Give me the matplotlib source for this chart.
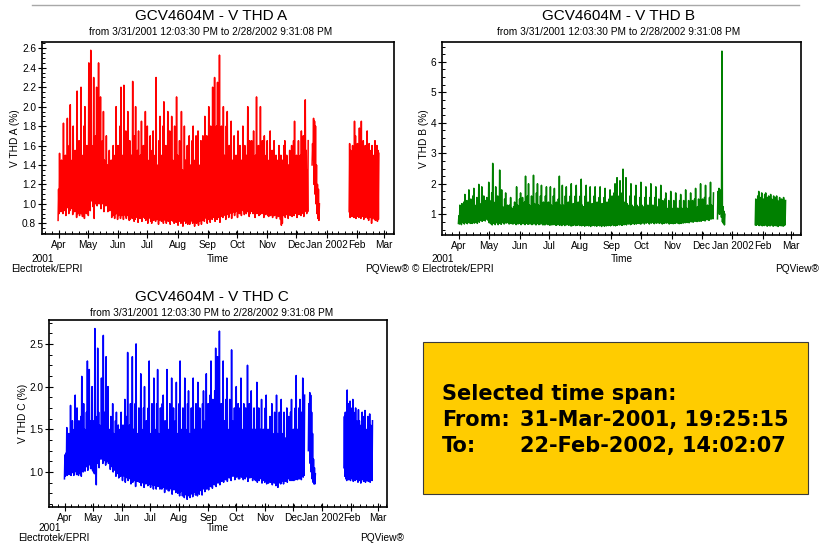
import matplotlib
matplotlib.use("Agg")
import matplotlib.pyplot as plt
import matplotlib.dates as mdates
from matplotlib.patches import Rectangle
from matplotlib.lines import Line2D
from matplotlib.ticker import MultipleLocator, FuncFormatter
from datetime import datetime

plt.rcParams['font.family'] = ['Liberation Sans', 'DejaVu Sans']

W, H = 824, 545

# three recording segments (start of each block of daily readings)
seg_starts = [datetime(2001, 3, 31, 12, 3, 30), datetime(2001, 12, 17), datetime(2002, 1, 24)]

# ---- V THD A : daily high / low (%) ----
a_hi_1 = [1.15, 1.52, 1.3, 1.45, 1.25, 1.83, 1.35, 1.5, 1.3, 1.88,
          1.4, 1.6, 2.02, 1.35, 1.45, 1.8, 1.3, 1.55, 1.4, 2.16,
          1.45, 1.65, 1.35, 2.2, 1.5, 1.4, 1.8, 2.0, 1.45, 1.6,
          1.5, 2.45, 1.55, 2.58, 1.6, 1.5, 2.3, 1.45, 1.7, 2.2,
          1.55, 2.45, 1.6, 2.1, 1.5, 1.65, 1.95, 1.45, 1.35, 1.7,
          1.4, 1.3, 1.55, 1.25, 1.45, 1.3, 1.6, 1.35, 1.5, 2.0,
          1.35, 1.6, 1.3, 1.8, 2.2, 1.4, 1.5, 2.22, 1.35, 1.75,
          1.4, 1.95, 1.3, 1.65, 1.4, 1.5, 2.26, 1.35, 1.7, 2.0,
          1.3, 1.55, 1.75, 1.35, 1.5, 1.85, 1.3, 1.6, 1.4, 1.95,
          1.35, 1.8, 1.3, 1.45, 1.7, 1.3, 1.55, 1.75, 1.35, 1.5,
          2.3, 1.4, 1.3, 1.65, 1.9, 1.35, 1.5, 1.8, 2.05, 1.3,
          1.6, 1.35, 1.95, 1.4, 1.75, 1.3, 1.9, 1.45, 1.35, 1.8,
          1.4, 2.1, 1.5, 1.3, 1.65, 1.45, 1.95, 1.35, 1.3, 1.8,
          1.45, 1.3, 1.6, 1.35, 1.7, 1.4, 1.3, 1.65, 1.8, 1.3,
          1.45, 1.7, 1.35, 1.75, 1.4, 1.3, 1.65, 1.35, 1.7, 1.45,
          1.9, 1.4, 1.7, 1.35, 2.0, 1.5, 1.8, 1.45, 2.2, 1.6,
          2.3, 1.5, 1.8, 2.25, 1.55, 2.53, 1.6, 1.8, 1.4, 2.0,
          1.5, 1.35, 1.8, 1.95, 1.4, 1.6, 1.3, 1.85, 1.45, 1.35,
          1.7, 1.3, 1.5, 1.35, 1.75, 1.4, 1.6, 1.3, 1.45, 1.8,
          1.35, 1.6, 1.3, 1.5, 2.0, 1.4, 1.65, 1.3, 1.65, 1.4,
          1.75, 1.35, 1.5, 2.1, 1.4, 1.6, 1.35, 2.0, 1.4, 1.65,
          1.35, 1.7, 1.3, 1.5, 1.65, 1.35, 1.45, 1.75, 1.3, 1.55,
          1.4, 1.65, 1.3, 1.5, 1.35, 1.45, 1.6, 1.3, 1.5, 1.35,
          1.45, 1.6, 1.65, 1.3, 1.5, 1.35, 1.4, 1.55, 1.3, 1.6,
          1.4, 1.65, 1.85, 1.35, 1.5, 1.4, 1.65, 1.35, 1.5, 1.75,
          1.4, 1.7, 1.45, 2.07, 1.55, 1.35, 1.65]
a_lo_1 = [0.83, 0.9, 0.95, 0.92, 0.97, 0.9, 0.93, 0.98, 0.88, 1.0,
          0.96, 0.9, 0.93, 0.95, 1.0, 0.89, 0.94, 0.92, 0.95, 0.86,
          0.9, 0.93, 0.88, 0.95, 0.9, 0.87, 0.92, 0.85, 0.95, 0.9,
          1.0, 0.88, 1.02, 0.93, 1.03, 1.05, 0.97, 0.85, 1.0, 1.05,
          0.98, 1.06, 1.0, 1.08, 0.95, 1.03, 1.0, 0.92, 1.05, 0.98,
          1.0, 0.92, 0.98, 0.93, 0.95, 0.86, 0.92, 0.88, 0.85, 0.9,
          0.9, 0.84, 0.88, 0.92, 0.85, 0.88, 0.9, 0.84, 0.93, 0.88,
          0.85, 0.88, 0.9, 0.83, 0.84, 0.88, 0.85, 0.9, 0.82, 0.84,
          0.88, 0.86, 0.81, 0.87, 0.85, 0.88, 0.82, 0.86, 0.9, 0.85,
          0.83, 0.86, 0.8, 0.85, 0.88, 0.82, 0.8, 0.85, 0.83, 0.86,
          0.82, 0.85, 0.84, 0.79, 0.83, 0.86, 0.82, 0.84, 0.8, 0.85,
          0.83, 0.8, 0.84, 0.82, 0.85, 0.79, 0.83, 0.86, 0.82, 0.8,
          0.84, 0.81, 0.83, 0.78, 0.82, 0.85, 0.8, 0.83, 0.77, 0.82,
          0.84, 0.8, 0.83, 0.79, 0.85, 0.79, 0.82, 0.84, 0.8, 0.83,
          0.77, 0.82, 0.8, 0.84, 0.78, 0.82, 0.85, 0.79, 0.83, 0.86,
          0.82, 0.87, 0.85, 0.8, 0.84, 0.86, 0.81, 0.87, 0.84, 0.86,
          0.88, 0.82, 0.87, 0.84, 0.86, 0.88, 0.81, 0.87, 0.9, 0.86,
          0.88, 0.9, 0.84, 0.91, 0.89, 0.86, 0.9, 0.92, 0.85, 0.91,
          0.93, 0.88, 0.92, 0.95, 0.86, 0.93, 0.9, 0.94, 0.88, 0.95,
          0.93, 0.89, 0.94, 0.9, 0.92, 0.95, 0.87, 0.9, 0.94, 0.92,
          0.9, 0.93, 0.86, 0.92, 0.9, 0.94, 0.88, 0.89, 0.93, 0.9,
          0.92, 0.86, 0.91, 0.89, 0.93, 0.88, 0.87, 0.91, 0.88, 0.9,
          0.86, 0.9, 0.88, 0.92, 0.85, 0.89, 0.87, 0.91, 0.84, 0.78,
          0.8, 0.88, 0.9, 0.86, 0.89, 0.92, 0.85, 0.9, 0.88, 0.91,
          0.87, 0.92, 0.88, 0.9, 0.93, 0.86, 0.91, 0.89, 0.92, 0.88,
          0.9, 0.93, 0.87, 0.92, 0.94, 0.9, 0.92]
a_hi_2 = [1.62, 1.88, 1.85, 1.8, 1.4, 1.2, 1.15, 1.0]
a_lo_2 = [1.4, 1.45, 1.2, 1.1, 1.0, 0.9, 0.85, 0.83]
a_hi_3 = [1.62, 1.55, 1.45, 1.6, 1.5, 1.85, 1.7, 1.45, 1.62, 1.55,
          1.78, 1.6, 1.85, 1.5, 1.65, 1.55, 1.6, 1.4, 1.75, 1.5,
          1.62, 1.45, 1.55, 1.6, 1.4, 1.5, 1.65, 1.45, 1.6, 1.55, 1.52]
a_lo_3 = [0.92, 0.86, 0.88, 0.87, 0.9, 0.86, 0.88, 0.85, 0.9, 0.87,
          0.86, 0.88, 0.85, 0.89, 0.87, 0.84, 0.88, 0.86, 0.9, 0.85,
          0.83, 0.87, 0.86, 0.8, 0.85, 0.88, 0.84, 0.83, 0.86, 0.82, 0.84]

# ---- V THD B ----
b_hi_1 = [0.95, 1.3, 1.1, 1.35, 1.15, 1.4, 1.65, 1.2, 1.45, 1.25,
          1.8, 1.3, 1.5, 1.2, 1.6, 1.85, 1.3, 1.2, 1.55, 1.3,
          1.98, 1.35, 1.25, 1.9, 1.3, 1.6, 1.2, 1.45, 1.55, 1.3,
          2.05, 1.45, 1.3, 1.7, 2.67, 1.4, 1.3, 1.9, 1.25, 1.6,
          1.35, 2.45, 1.3, 1.8, 1.25, 1.2, 1.5, 1.7, 1.2, 1.3,
          1.15, 1.3, 1.55, 1.2, 1.1, 1.25, 1.4, 1.2, 1.9, 1.3,
          1.25, 1.5, 1.7, 1.3, 1.55, 1.2, 1.4, 2.25, 1.3, 1.6,
          2.0, 1.3, 1.2, 1.6, 1.25, 2.28, 1.35, 1.2, 1.7, 2.0,
          1.3, 1.2, 1.6, 1.95, 1.25, 1.4, 1.2, 1.6, 1.9, 1.25,
          1.4, 1.2, 1.9, 1.3, 1.25, 1.6, 1.85, 1.2, 1.4, 1.25,
          1.5, 2.25, 1.3, 1.2, 1.95, 1.3, 1.2, 1.6, 1.9, 1.25,
          1.4, 1.2, 1.6, 2.0, 1.25, 1.35, 1.2, 1.6, 1.95, 1.25,
          1.4, 1.2, 1.6, 2.15, 1.3, 1.25, 1.2, 1.6, 1.95, 1.25,
          1.4, 1.2, 1.9, 1.25, 1.35, 1.2, 1.6, 1.9, 1.25, 1.4,
          1.2, 1.55, 1.9, 1.25, 1.35, 1.2, 1.55, 1.85, 1.25, 1.4,
          1.2, 1.5, 1.8, 1.25, 1.6, 1.3, 1.7, 2.0, 1.4, 2.2,
          1.3, 1.6, 2.1, 1.35, 1.7, 2.48, 1.4, 1.3, 2.2, 1.35,
          1.3, 1.25, 1.6, 2.0, 1.3, 1.25, 1.2, 1.6, 1.95, 1.3,
          1.25, 1.2, 1.55, 2.05, 1.3, 1.25, 1.2, 1.55, 1.9, 1.25,
          1.3, 1.2, 1.55, 2.0, 1.25, 1.3, 1.2, 1.55, 1.9, 1.25,
          1.2, 1.5, 1.25, 1.95, 1.2, 1.45, 1.15, 1.5, 1.7, 1.2,
          1.15, 1.45, 1.2, 1.75, 1.2, 1.15, 1.45, 1.2, 1.7, 1.15,
          1.2, 1.15, 1.45, 1.65, 1.2, 1.15, 1.45, 1.2, 1.8, 1.2,
          1.15, 1.45, 1.2, 1.7, 1.15, 1.45, 1.2, 1.5, 1.85, 1.2,
          1.25, 1.5, 1.2, 2.0, 1.25, 1.5, 1.2, 1.55, 1.95, 1.25,
          1.3, 1.25, 1.55, 2.05, 1.3, 1.25, 1.7]
b_lo_1 = [0.7, 0.68, 0.72, 0.66, 0.74, 0.71, 0.68, 0.75, 0.72, 0.69,
          0.76, 0.73, 0.7, 0.72, 0.7, 0.74, 0.71, 0.73, 0.75, 0.7,
          0.8, 0.74, 0.82, 0.79, 0.77, 0.8, 0.85, 0.78, 0.86, 0.83,
          0.8, 0.72, 0.72, 0.68, 0.65, 0.7, 0.72, 0.66, 0.74, 0.71,
          0.66, 0.7, 0.73, 0.67, 0.72, 0.75, 0.68, 0.73, 0.71, 0.74,
          0.72, 0.68, 0.7, 0.74, 0.69, 0.68, 0.73, 0.7, 0.66, 0.71,
          0.68, 0.72, 0.7, 0.66, 0.71, 0.69, 0.73, 0.66, 0.7, 0.72,
          0.67, 0.7, 0.68, 0.72, 0.66, 0.7, 0.68, 0.71, 0.65, 0.69,
          0.7, 0.66, 0.69, 0.68, 0.71, 0.65, 0.7, 0.65, 0.69, 0.68,
          0.66, 0.69, 0.64, 0.7, 0.65, 0.68, 0.66, 0.69, 0.64, 0.65,
          0.68, 0.66, 0.64, 0.67, 0.63, 0.68, 0.66, 0.63, 0.67, 0.65,
          0.68, 0.64, 0.66, 0.62, 0.62, 0.66, 0.64, 0.67, 0.63, 0.66,
          0.64, 0.67, 0.63, 0.65, 0.62, 0.66, 0.64, 0.61, 0.65, 0.63,
          0.66, 0.62, 0.64, 0.6, 0.65, 0.63, 0.66, 0.62, 0.64, 0.61,
          0.63, 0.66, 0.62, 0.64, 0.6, 0.65, 0.63, 0.61, 0.64, 0.62,
          0.65, 0.63, 0.66, 0.62, 0.64, 0.67, 0.63, 0.65, 0.62, 0.66,
          0.64, 0.67, 0.65, 0.68, 0.64, 0.64, 0.68, 0.66, 0.69, 0.65,
          0.7, 0.68, 0.71, 0.66, 0.67, 0.7, 0.72, 0.67, 0.71, 0.68,
          0.72, 0.7, 0.73, 0.68, 0.69, 0.72, 0.74, 0.68, 0.73, 0.71,
          0.74, 0.72, 0.68, 0.73, 0.71, 0.74, 0.72, 0.69, 0.73, 0.71,
          0.72, 0.74, 0.7, 0.73, 0.71, 0.68, 0.72, 0.7, 0.73, 0.71,
          0.74, 0.71, 0.68, 0.72, 0.7, 0.73, 0.69, 0.72, 0.7, 0.74,
          0.71, 0.73, 0.69, 0.72, 0.7, 0.73, 0.71, 0.74, 0.72, 0.75,
          0.73, 0.76, 0.72, 0.77, 0.75, 0.78, 0.74, 0.79, 0.77, 0.8,
          0.76, 0.8, 0.77, 0.81, 0.77, 0.82, 0.8, 0.83, 0.78, 0.84,
          0.82, 0.85, 0.8, 0.86, 0.84, 0.87, 0.85]
b_hi_2 = [1.75, 1.85, 1.6, 1.8, 6.35, 1.25, 1.1, 1.0]
b_lo_2 = [0.85, 1.2, 1.0, 1.05, 0.9, 0.75, 0.7, 0.65]
b_hi_3 = [1.5, 1.35, 1.6, 1.75, 1.45, 1.55, 1.7, 1.4, 1.5, 1.65,
          1.7, 1.45, 1.55, 1.6, 1.4, 1.65, 1.5, 1.45, 1.6, 1.4,
          1.55, 1.6, 1.45, 1.35, 1.55, 1.45, 1.5, 1.4, 1.55, 1.45, 1.45]
b_lo_3 = [0.66, 0.64, 0.67, 0.65, 0.63, 0.66, 0.64, 0.62, 0.65, 0.63,
          0.66, 0.64, 0.61, 0.65, 0.63, 0.62, 0.66, 0.64, 0.61, 0.63,
          0.65, 0.62, 0.64, 0.6, 0.63, 0.65, 0.62, 0.64, 0.61, 0.63, 0.65]

# ---- V THD C ----
c_hi_1 = [1.2, 1.22, 1.52, 1.3, 1.45, 1.35, 1.78, 1.4, 1.6, 1.35,
          1.5, 1.9, 1.4, 1.75, 1.45, 1.6, 1.4, 1.65, 2.12, 1.45,
          1.8, 1.5, 1.45, 1.7, 2.3, 1.55, 2.2, 1.6, 1.5, 2.0,
          1.6, 1.5, 2.68, 1.65, 1.55, 2.45, 1.7, 1.55, 1.5, 2.1,
          1.6, 2.6, 1.7, 1.5, 2.35, 1.55, 2.0, 1.5, 1.45, 1.65,
          1.4, 1.8, 1.45, 1.35, 1.6, 1.7, 1.4, 1.55, 1.35, 1.5,
          1.7, 1.4, 1.55, 1.45, 1.85, 1.4, 1.65, 2.4, 1.45, 1.55,
          1.8, 1.4, 2.35, 1.5, 1.4, 1.8, 2.5, 1.45, 1.4, 1.75,
          1.45, 2.15, 1.5, 1.4, 1.75, 2.0, 1.45, 1.6, 1.4, 1.75,
          2.3, 1.45, 1.4, 1.8, 1.45, 2.1, 1.5, 1.4, 1.8, 2.2,
          1.45, 1.4, 1.75, 1.45, 1.8, 1.9, 1.4, 1.6, 1.45, 2.2,
          1.5, 1.4, 1.8, 1.45, 2.1, 1.4, 1.75, 1.45, 1.6, 2.05,
          1.45, 1.4, 1.8, 2.3, 1.5, 1.4, 1.75, 1.45, 2.1, 1.5,
          1.4, 1.8, 1.95, 1.45, 1.4, 1.75, 1.45, 2.1, 1.5, 1.4,
          1.8, 1.45, 2.05, 1.4, 1.75, 1.45, 1.5, 1.8, 1.95, 1.45,
          1.6, 2.15, 1.45, 1.8, 1.5, 1.9, 2.3, 1.5, 1.85, 1.55,
          1.95, 2.45, 1.6, 2.35, 1.65, 2.65, 1.7, 1.8, 1.55, 2.3,
          1.6, 1.5, 1.85, 2.1, 1.5, 1.45, 1.85, 1.5, 2.43, 1.6,
          1.5, 1.75, 1.45, 2.0, 1.5, 1.8, 1.45, 1.75, 2.1, 1.5,
          1.45, 1.8, 1.5, 1.75, 1.45, 2.25, 1.5, 1.8, 1.45, 1.95,
          1.5, 1.45, 1.75, 1.4, 1.5, 2.05, 1.45, 1.75, 1.4, 1.5,
          1.85, 1.4, 1.5, 1.45, 1.75, 1.9, 1.4, 1.5, 1.35, 1.65,
          1.4, 1.8, 1.45, 1.35, 1.7, 1.4, 1.9, 1.45, 1.35, 1.7,
          1.4, 1.85, 1.45, 1.35, 1.7, 1.4, 1.35, 1.75, 1.4, 1.65,
          1.35, 1.7, 1.85, 1.4, 1.5, 1.45, 1.75, 2.13, 1.5, 1.4,
          1.75, 1.85, 1.45, 1.7, 2.1, 1.55, 1.9]
c_lo_1 = [0.92, 0.95, 1.0, 0.96, 1.02, 0.97, 1.0, 0.96, 0.99, 1.02,
          0.96, 1.0, 1.03, 0.97, 1.0, 0.96, 1.02, 0.98, 0.95, 1.02,
          1.0, 1.08, 1.01, 1.1, 1.06, 1.02, 1.08, 1.15, 1.04, 1.18,
          1.02, 1.0, 0.98, 1.05, 0.85, 1.1, 1.15, 1.05, 1.18, 1.15,
          1.2, 1.1, 1.13, 1.18, 1.08, 1.12, 1.16, 1.1, 1.13, 1.03,
          1.12, 1.06, 1.0, 1.04, 1.02, 0.95, 0.98, 1.0, 0.93, 0.98,
          0.95, 0.97, 0.9, 0.98, 0.95, 0.88, 0.96, 0.93, 0.9, 0.95,
          0.92, 0.86, 0.94, 0.88, 0.92, 0.9, 0.83, 0.91, 0.89, 0.93,
          0.88, 0.91, 0.84, 0.9, 0.87, 0.82, 0.89, 0.86, 0.9, 0.84,
          0.85, 0.88, 0.82, 0.87, 0.85, 0.8, 0.86, 0.84, 0.8, 0.85,
          0.83, 0.86, 0.8, 0.85, 0.8, 0.84, 0.82, 0.76, 0.83, 0.8,
          0.84, 0.78, 0.78, 0.83, 0.8, 0.74, 0.82, 0.79, 0.81, 0.76,
          0.8, 0.75, 0.78, 0.72, 0.77, 0.8, 0.72, 0.78, 0.7, 0.76,
          0.73, 0.68, 0.72, 0.76, 0.7, 0.74, 0.78, 0.71, 0.76, 0.8,
          0.73, 0.78, 0.72, 0.8, 0.74, 0.82, 0.78, 0.73, 0.8, 0.83,
          0.77, 0.84, 0.8, 0.85, 0.79, 0.86, 0.83, 0.87, 0.81, 0.88,
          0.85, 0.89, 0.83, 0.9, 0.87, 0.91, 0.85, 0.92, 0.89, 0.93,
          0.88, 0.94, 0.91, 0.95, 0.89, 0.96, 0.93, 0.97, 0.9, 0.96,
          0.95, 0.97, 0.91, 0.96, 0.94, 0.98, 0.92, 0.92, 0.96, 0.94,
          0.97, 0.91, 0.95, 0.92, 0.96, 0.94, 0.89, 0.95, 0.93, 0.96,
          0.94, 0.9, 0.95, 0.92, 0.9, 0.94, 0.88, 0.93, 0.9, 0.94,
          0.92, 0.87, 0.93, 0.9, 0.88, 0.92, 0.86, 0.91, 0.87, 0.9,
          0.88, 0.91, 0.85, 0.9, 0.87, 0.89, 0.84, 0.88, 0.82, 0.87,
          0.9, 0.86, 0.89, 0.92, 0.86, 0.91, 0.89, 0.93, 0.88, 0.92,
          0.94, 0.9, 0.93, 0.9, 0.95, 0.9, 0.94, 0.91, 0.95, 0.91,
          0.96, 0.92, 0.95, 0.91, 0.97, 0.94, 0.96]
c_hi_2 = [1.8, 1.93, 1.9, 1.7, 1.45, 1.15, 1.05, 0.98]
c_lo_2 = [1.25, 1.35, 1.1, 1.0, 0.92, 0.88, 0.86, 0.86]
c_hi_3 = [1.65, 1.7, 1.55, 1.96, 1.8, 1.6, 1.83, 1.75, 1.6, 1.85,
          1.7, 1.55, 1.75, 1.6, 1.5, 1.73, 1.6, 1.45, 1.55, 1.7,
          1.5, 1.65, 1.72, 1.5, 1.45, 1.65, 1.5, 1.68, 1.55, 1.45, 1.6]
c_lo_3 = [1.05, 0.95, 0.92, 0.9, 0.94, 0.91, 0.93, 0.9, 0.95, 0.92,
          0.89, 0.93, 0.9, 0.94, 0.91, 0.88, 0.92, 0.9, 0.87, 0.91,
          0.93, 0.89, 0.92, 0.88, 0.9, 0.93, 0.89, 0.91, 0.88, 0.92, 0.9]

subtitle = 'from 3/31/2001 12:03:30 PM to 2/28/2002 9:31:08 PM'
x_range = (datetime(2001, 3, 15), datetime(2002, 3, 11))


def fx(px):
    return px / W


def fy(py):
    return 1 - py / H


def trace(hi, lo, start):
    # low then high within each day -> dense daily swing
    t0 = mdates.date2num(start)
    xs, ys = [], []
    for i, (h, l) in enumerate(zip(hi, lo)):
        xs += [t0 + i, t0 + i + 0.5]
        ys += [l, h]
    return xs, ys


def month_label(x, pos):
    d = mdates.num2date(x)
    return d.strftime('%b %Y') if d.month == 1 else d.strftime('%b')


def panel(box, segs, color, ylim, major, minor, fmt, ylabel, name, lay):
    l, t, r, b = box
    ax = fig.add_axes([fx(l), fy(b), fx(r - l), (b - t) / H])
    for (hi, lo), st in zip(segs, seg_starts):
        xs, ys = trace(hi, lo, st)
        ax.plot(xs, ys, color=color, lw=1.1)
    ax.set_xlim(*x_range)
    ax.set_ylim(*ylim)
    ax.xaxis.set_major_locator(mdates.MonthLocator())
    ax.xaxis.set_minor_locator(mdates.WeekdayLocator(byweekday=mdates.SU))
    ax.xaxis.set_major_formatter(FuncFormatter(month_label))
    ax.yaxis.set_major_locator(MultipleLocator(major))
    ax.yaxis.set_minor_locator(MultipleLocator(minor))
    ax.yaxis.set_major_formatter(FuncFormatter(lambda v, p: fmt % v))
    ax.tick_params(which='major', direction='inout', length=5.5, width=0.8,
                   labelsize=7.3, pad=1.5)
    ax.tick_params(which='minor', direction='in', length=2.4, width=0.7)
    for s in ax.spines.values():
        s.set_linewidth(1.2)
    cx = (l + r) / 2
    fig.text(fx(lay['tx']), fy(lay['ty']), 'GCV4604M - ' + name, ha='center',
             va='center', fontsize=11)
    fig.text(fx(lay['tx']), fy(lay['ty'] + 16), subtitle, ha='center',
             va='center', fontsize=7.3)
    fig.text(fx(lay['yl']), fy((t + b) / 2), ylabel, rotation=90,
             ha='center', va='center', fontsize=7.3)
    fig.text(fx(cx), fy(lay['tm']), 'Time', ha='center', va='center', fontsize=7.3)
    fig.text(fx(l + 1), fy(lay['tm']), '2001', ha='center', va='center', fontsize=7.3)
    fig.text(fx(lay['el']), fy(lay['ft']), lay['elt'], ha='left', va='center',
             fontsize=7.3)
    fig.text(fx(lay['pq']), fy(lay['ft']), 'PQView®', ha='right', va='center',
             fontsize=7.3)
    return ax


fig = plt.figure(figsize=(W / 100, H / 100), dpi=100)

fig.add_artist(Line2D([fx(32), fx(799)], [fy(5), fy(5)], color='#a8a8a8', lw=1))

panel((42, 42, 394, 234),
      [(a_hi_1, a_lo_1), (a_hi_2, a_lo_2), (a_hi_3, a_lo_3)],
      '#ff0000', (0.69, 2.665), 0.2, 0.05, '%.1f', 'V THD A (%)', 'V THD A',
      dict(tx=211, ty=16, yl=15, tm=259, ft=269, el=11,
           elt='Electrotek/EPRI', pq=409))
panel((442, 42, 801, 235),
      [(b_hi_1, b_lo_1), (b_hi_2, b_lo_2), (b_hi_3, b_lo_3)],
      '#008000', (0.32, 6.65), 1, 0.25, '%d', 'V THD B (%)', 'V THD B',
      dict(tx=619, ty=16, yl=424, tm=259, ft=269, el=412,
           elt='© Electrotek/EPRI', pq=819))
panel((49, 320, 387, 507),
      [(c_hi_1, c_lo_1), (c_hi_2, c_lo_2), (c_hi_3, c_lo_3)],
      '#0000ff', (0.59, 2.78), 0.5, 0.125, '%.1f', 'V THD C (%)', 'V THD C',
      dict(tx=212, ty=297, yl=23, tm=528, ft=538, el=18,
           elt='Electrotek/EPRI', pq=404))

# selected time span box
fig.add_artist(Rectangle((fx(423), fy(494)), fx(385), 152 / H,
                         transform=fig.transFigure, facecolor='#ffcc00',
                         edgecolor='#3a3a3a', lw=0.8))
box_font = dict(fontsize=15, weight='bold', family='DejaVu Sans', va='baseline')
fig.text(fx(442), fy(400), 'Selected time span:', **box_font)
fig.text(fx(442), fy(426), 'From:', **box_font)
fig.text(fx(520), fy(426), '31-Mar-2001, 19:25:15', **box_font)
fig.text(fx(442), fy(452), 'To:', **box_font)
fig.text(fx(520), fy(452), '22-Feb-2002, 14:02:07', **box_font)

fig.savefig('out.png', dpi=100)
